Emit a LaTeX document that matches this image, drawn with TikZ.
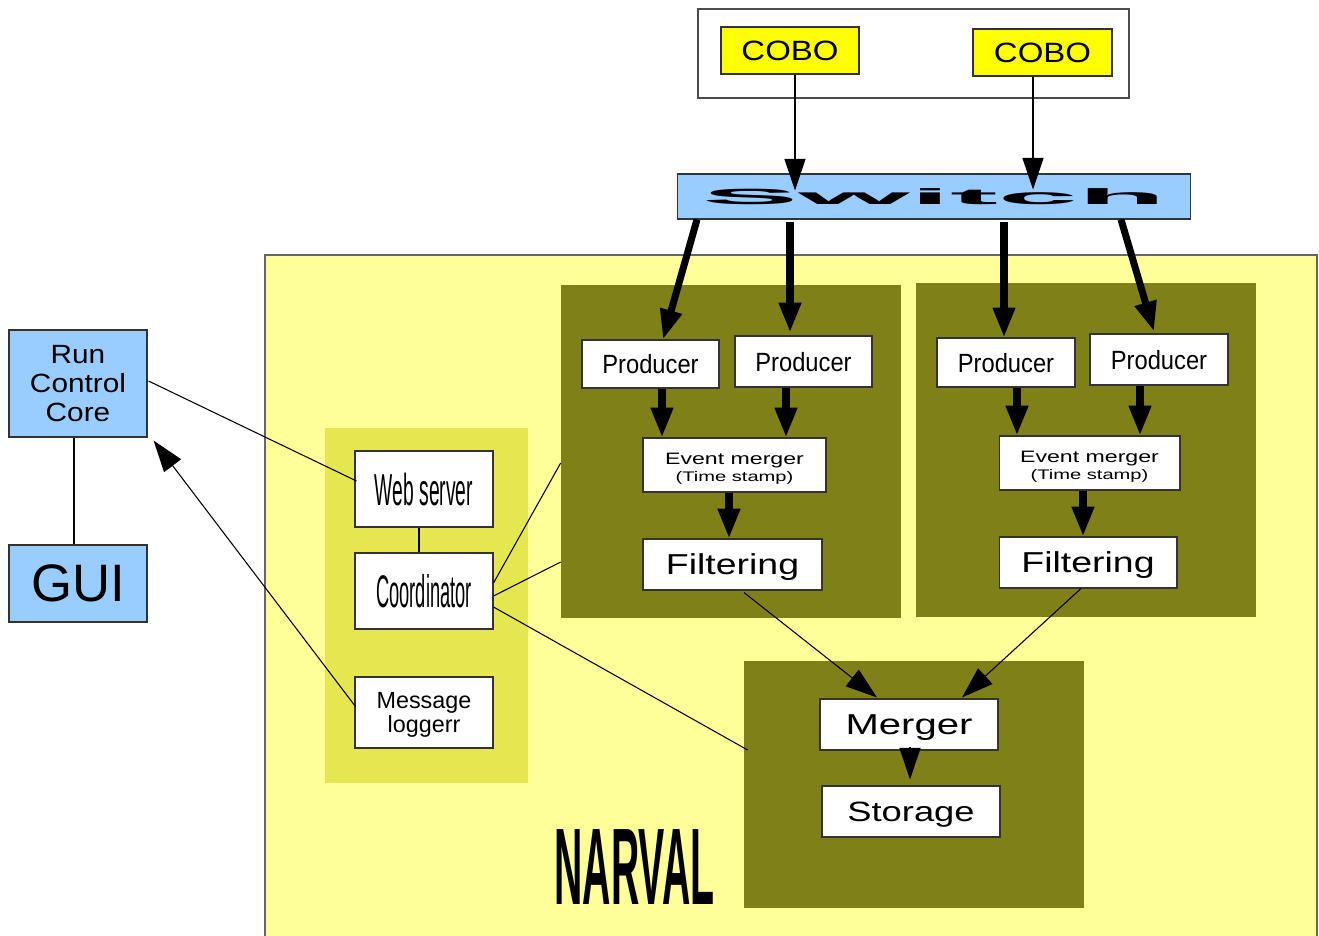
\documentclass[tikz,border=0pt]{standalone}
\usepackage{fontspec}
\setmainfont{Liberation Sans}
\usepackage{graphicx}
\usepackage{tikz}
\usetikzlibrary{arrows.meta,calc}

\definecolor{skyblue}{HTML}{99CCFF}
\definecolor{coboyellow}{HTML}{FFFF00}
\definecolor{narvalbg}{HTML}{FFFF99}
\definecolor{ctrlbg}{HTML}{E6E650}
\definecolor{olivebg}{HTML}{808019}

\newcommand{\hstretch}[2]{\scalebox{#1}[1]{#2}}

\begin{document}
\begin{tikzpicture}[x=0.02cm, y=-0.02cm,
    box/.style={draw=black!80, fill=white, line width=0.6pt, inner sep=0pt, align=center, text depth=0pt},
    bluebox/.style={box, fill=skyblue},
    cobobox/.style={box, fill=coboyellow, font=\fontsize{15.9}{17}\selectfont},
    prodbox/.style={box, font=\fontsize{15}{17}\selectfont},
    bigbox/.style={box, font=\fontsize{16.4}{18}\selectfont},
    mergebox/.style={box, minimum height=1.08cm, text height=18.8pt, font=\fontsize{8}{9.9}\selectfont},
    panel/.style={fill=olivebg, inner sep=0pt},
    fatarr/.style={-{Triangle[width=12pt,length=17pt]}, line width=4pt},
    thinarr/.style={-{Triangle[width=12pt,length=18pt]}, line width=0.6pt},
    link/.style={line width=0.6pt}
]
\useasboundingbox (0,0) rectangle (1319,936);

% regions
\fill[narvalbg] (265,255) rectangle (1317,936);
\draw[black!60, line width=0.6pt] (265,936) -- (265,255) -- (1317,255) -- (1317,936);
\draw[black!70, line width=0.6pt] (698,9) rectangle (1129,98);

\node[panel, fill=ctrlbg, minimum width=4.06cm, minimum height=7.1cm] (ctrl) at (426.5,605.5) {};
\node[panel, minimum width=6.8cm, minimum height=6.66cm] (panelA) at (731,451.5) {};
\node[panel, minimum width=6.8cm, minimum height=6.68cm] (panelB) at (1086,450) {};
\node[panel, minimum width=6.8cm, minimum height=4.94cm] (panelC) at (914,784.5) {};

\node[font=\fontsize{62}{62}\selectfont\bfseries] (narval) at (634.5,867) {\hstretch{0.36}{NARVAL}};

% boxes
\node[cobobox, minimum width=2.76cm, minimum height=0.94cm] (cobo1) at (790,50.5) {\hstretch{1.18}{COBO}};
\node[cobobox, minimum width=2.78cm, minimum height=0.94cm] (cobo2) at (1042.5,52.5) {\hstretch{1.18}{COBO}};
\node[bluebox, minimum width=10.28cm, minimum height=0.9cm,
      font=\fontsize{12.5}{13}\selectfont\bfseries] (switch) at (934,196.5) {\hstretch{6.55}{Switch}};

\node[prodbox, minimum width=2.74cm, minimum height=0.96cm] (prodA) at (650.5,364) {\hstretch{0.9}{Producer}};
\node[prodbox, minimum width=2.74cm, minimum height=1.02cm] (prodB) at (803.5,361.5) {\hstretch{0.9}{Producer}};
\node[prodbox, minimum width=2.76cm, minimum height=0.98cm] (prodC) at (1006,362.5) {\hstretch{0.9}{Producer}};
\node[prodbox, minimum width=2.76cm, minimum height=1.02cm] (prodD) at (1159,359.5) {\hstretch{0.9}{Producer}};

\node[mergebox, minimum width=3.66cm] (merge1) at (734.5,465)
  {\hstretch{1.4}{\fontsize{9.4}{10}\selectfont Event merger}\\\hstretch{1.45}{\fontsize{7.9}{9}\selectfont (Time stamp)}};
\node[mergebox, minimum width=3.62cm] (merge2) at (1089.5,463)
  {\hstretch{1.4}{\fontsize{9.4}{10}\selectfont Event merger}\\\hstretch{1.45}{\fontsize{7.9}{9}\selectfont (Time stamp)}};

\node[bigbox, minimum width=3.58cm, minimum height=1.02cm] (filt1) at (732.5,564.5) {\hstretch{1.3}{Filtering}};
\node[bigbox, minimum width=3.56cm, minimum height=1.02cm] (filt2) at (1088,562.5) {\hstretch{1.3}{Filtering}};
\node[bigbox, minimum width=3.56cm, minimum height=1.02cm] (merger) at (909,724.5) {\hstretch{1.39}{Merger}};
\node[bigbox, minimum width=3.56cm, minimum height=1.02cm, font=\fontsize{15.9}{17}\selectfont] (storage) at (911,811.5) {\hstretch{1.3}{Storage}};

\node[bluebox, minimum width=2.76cm, minimum height=2.14cm, font=\fontsize{15}{16.7}\selectfont] (rcc) at (78,383.5)
  {\hstretch{1.13}{Run}\\\hstretch{1.13}{Control}\\\hstretch{1.13}{Core}};
\node[bluebox, minimum width=2.76cm, minimum height=1.54cm, font=\fontsize{30}{32}\selectfont] (gui) at (78,583.5) {GUI};

\node[box, minimum width=2.76cm, minimum height=1.52cm, font=\fontsize{25.5}{27}\selectfont] (web) at (424,489) {\hstretch{0.43}{Web server}};
\node[box, minimum width=2.76cm, minimum height=1.52cm, font=\fontsize{26}{28}\selectfont] (coord) at (424,591) {\hstretch{0.4}{Coordinator}};
\node[box, minimum width=2.76cm, minimum height=1.42cm, font=\fontsize{13.3}{14}\selectfont] (msglog) at (424,712.5) {Message\\loggerr};

% links
\draw[thinarr] ($(cobo1.south)+(5,0)$) -- ($(cobo1.south |- switch.north)+(5,17)$);
\draw[thinarr] ($(cobo2.south)+(-9.5,0)$) -- ($(cobo2.south |- switch.north)+(-9.5,16)$);

\draw[fatarr] ($(switch.south)+(-237,0)$) -- ($(prodA.north)+(12.5,0)$);
\draw[fatarr] ($(switch.south)+(-144,2)$) -- ($(prodB.north)+(-13.5,-3)$);
\draw[fatarr] ($(switch.south)+(70,2)$) -- ($(prodC.north)+(-2,0)$);
\draw[fatarr] ($(switch.south)+(187,0)$) -- ($(prodD.north)+(-5,-2)$);

\draw[fatarr] ($(prodA.south)+(11.5,0)$) -- ($(prodA.south |- merge1.north)+(11.5,0)$);
\draw[fatarr] ($(prodB.south)+(-17.5,0)$) -- ($(prodB.south |- merge1.north)+(-17.5,0)$);
\draw[fatarr] ($(prodC.south)+(11,0)$) -- ($(prodC.south |- merge2.north)+(11,0)$);
\draw[fatarr] ($(prodD.south)+(-19,0)$) -- ($(prodD.south |- merge2.north)+(-19,0)$);
\draw[fatarr] ($(merge1.south)+(-5.5,0)$) -- ($(merge1.south |- filt1.north)+(-5.5,0)$);
\draw[fatarr] ($(merge2.south)+(-6.5,0)$) -- ($(merge2.south |- filt2.north)+(-6.5,0)$);

\draw[thinarr] ($(filt1.south)+(11.5,2)$) -- ($(merger.north)+(-32,-1)$);
\draw[thinarr] ($(filt2.south)+(-7,0)$) -- ($(merger.north)+(53,-1)$);
\draw[thinarr] ($(merger.south)+(1,-4)$) -- ($(merger.south |- storage.north)+(1,-6)$);

\draw[link] ($(rcc.south)+(-4,0)$) -- ($(gui.north)+(-4,0)$);
\draw[link] ($(rcc.east)+(1,-2.5)$) -- ($(web.west)+(2,-8)$);
\draw[thinarr] ($(msglog.west)+(1,-6)$) -- ($(rcc.south east)+(6,3)$);
\draw[link] ($(web.south)+(-5,0)$) -- ($(coord.north)+(-5,0)$);
\draw[link] ($(coord.east)+(0,-8)$) -- ($(panelA.west)+(0,11.5)$);
\draw[link] ($(coord.east)+(0,5)$) -- ($(panelA.west)+(0,110.5)$);
\draw[link] ($(coord.east)+(0,16)$) -- ($(panelC.west)+(4,-34.5)$);
\end{tikzpicture}
\end{document}
